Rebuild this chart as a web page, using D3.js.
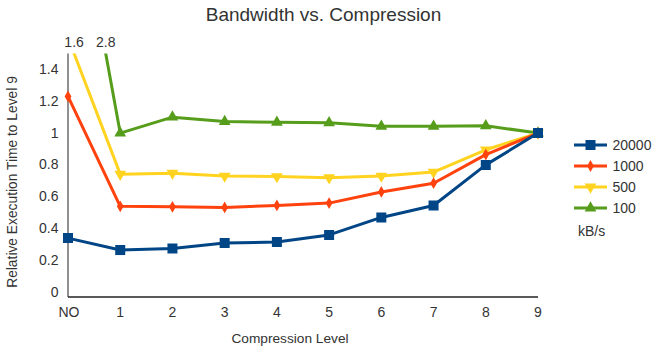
<!DOCTYPE html>
<html>
<head>
<meta charset="utf-8">
<script src="https://cdn.jsdelivr.net/npm/d3@7"></script>
<style>
  html, body { margin: 0; padding: 0; background: #fff; }
  svg { display: block; font-family: "Liberation Sans", Arial, sans-serif; }
</style>
</head>
<body>
<svg id="chart" width="652" height="350"></svg>
<script>
// Compression levels on the x axis
const levels = ["NO", "1", "2", "3", "4", "5", "6", "7", "8", "9"];

// Relative execution time (normalised to level 9) for each bandwidth
const bw20000 = [0.34, 0.265, 0.275, 0.31, 0.315, 0.36, 0.47, 0.545, 0.80, 1.0];
const bw1000  = [1.23, 0.54, 0.537, 0.533, 0.545, 0.56, 0.63, 0.685, 0.865, 1.0];
const bw500   = [1.6, 0.742, 0.748, 0.73, 0.727, 0.72, 0.73, 0.755, 0.895, 1.0];
const bw100   = [2.8, 1.0, 1.1, 1.072, 1.068, 1.065, 1.043, 1.043, 1.046, 1.0];

const seriesNames = ["20000", "1000", "500", "100"];
const seriesColors = ["#004586", "#ff420e", "#ffd320", "#579d1c"];
const seriesMarkers = ["square", "diamond", "triangleDown", "triangleUp"];

const yTicks = [0, 0.2, 0.4, 0.6, 0.8, 1, 1.2, 1.4];
const yMax = 1.5;

const series = [bw20000, bw1000, bw500, bw100].map((values, i) => ({
  name: seriesNames[i], values, color: seriesColors[i], marker: seriesMarkers[i]
}));

const svg = d3.select("#chart");

const x = d3.scalePoint().domain(levels).range([68, 538]);
const y = d3.scaleLinear().domain([-0.03, yMax]).range([297, 53.5]);

// Title
svg.append("text")
  .attr("x", 323.5).attr("y", 21)
  .attr("text-anchor", "middle")
  .attr("font-size", 19).attr("fill", "#333")
  .text("Bandwidth vs. Compression");

// Y axis tick labels
svg.append("g").selectAll("text")
  .data(yTicks).join("text")
  .attr("x", 58.5).attr("y", d => y(d))
  .attr("dy", "0.32em")
  .attr("text-anchor", "end")
  .attr("font-size", 14).attr("fill", "#333")
  .text(d => d3.format("~g")(d));

// X axis tick labels
svg.append("g").selectAll("text")
  .data(levels).join("text")
  .attr("x", d => x(d) + (d === "NO" ? 1 : 0)).attr("y", 317)
  .attr("text-anchor", "middle")
  .attr("font-size", 14).attr("fill", "#333")
  .text(d => d);

// Axis lines
svg.append("line")
  .attr("x1", x(levels[0])).attr("x2", x(levels[0]))
  .attr("y1", y(yMax)).attr("y2", y(-0.03))
  .attr("stroke", "#555").attr("stroke-width", 1.3);
svg.append("line")
  .attr("x1", x(levels[0])).attr("x2", x(levels[levels.length - 1]))
  .attr("y1", y(-0.03)).attr("y2", y(-0.03))
  .attr("stroke", "#222").attr("stroke-width", 1.3);

// Axis titles
svg.append("text")
  .attr("x", 290).attr("y", 343)
  .attr("text-anchor", "middle")
  .attr("font-size", 13.7).attr("fill", "#333")
  .text("Compression Level");
svg.append("text")
  .attr("transform", "translate(17,182) rotate(-90)")
  .attr("text-anchor", "middle")
  .attr("font-size", 13.8).attr("fill", "#333")
  .text("Relative Execution Time to Level 9");

// Clip lines to the plotting area (values above the axis maximum run off the top)
svg.append("defs").append("clipPath").attr("id", "plot-clip")
  .append("rect")
  .attr("x", 60).attr("y", y(yMax))
  .attr("width", 500).attr("height", y(-0.03) - y(yMax) + 10);

const markerSymbol = {
  square: d3.symbolSquare,
  diamond: d3.symbolDiamond,
  triangleDown: d3.symbolTriangle,
  triangleUp: d3.symbolTriangle
};
const markerSize = { square: 100, diamond: 40, triangleDown: 60, triangleUp: 60 };
const markerRotate = { square: 0, diamond: 0, triangleDown: 180, triangleUp: 0 };

const line = d3.line().x((d, i) => x(levels[i])).y(d => y(d));

const plot = svg.append("g").attr("clip-path", "url(#plot-clip)");

// Draw from the slowest link back so the fastest line sits on top
series.slice().reverse().forEach(s => {
  const g = plot.append("g");
  g.append("path")
    .attr("d", line(s.values))
    .attr("fill", "none")
    .attr("stroke", s.color)
    .attr("stroke-width", 3)
    .attr("stroke-linejoin", "round");
  g.selectAll("path.mark")
    .data(s.values.map((v, i) => ({ v, i })).filter(d => d.v <= yMax))
    .join("path")
    .attr("class", "mark")
    .attr("transform", d => `translate(${x(levels[d.i])},${y(d.v)}) rotate(${markerRotate[s.marker]})`)
    .attr("d", d3.symbol().type(markerSymbol[s.marker]).size(markerSize[s.marker]))
    .attr("fill", s.color);
});

// Values that exceed the axis are written above where the line leaves the plot
series.forEach(s => {
  const v0 = s.values[0], v1 = s.values[1];
  if (v0 <= yMax) return;
  const t = (v0 - yMax) / (v0 - v1);
  const xc = x(levels[0]) + t * (x(levels[1]) - x(levels[0]));
  svg.append("text")
    .attr("x", xc).attr("y", 47)
    .attr("text-anchor", "middle")
    .attr("font-size", 14).attr("fill", "#333")
    .text(d3.format("~g")(v0));
});

// Legend
const legend = svg.append("g");
series.forEach((s, i) => {
  const ly = 145 + i * 21;
  legend.append("line")
    .attr("x1", 574).attr("x2", 607).attr("y1", ly).attr("y2", ly)
    .attr("stroke", s.color).attr("stroke-width", 3);
  legend.append("path")
    .attr("transform", `translate(590.5,${ly}) rotate(${markerRotate[s.marker]})`)
    .attr("d", d3.symbol().type(markerSymbol[s.marker]).size(markerSize[s.marker]))
    .attr("fill", s.color);
  legend.append("text")
    .attr("x", 612.5).attr("y", ly).attr("dy", "0.35em")
    .attr("font-size", 14).attr("fill", "#333")
    .text(s.name);
});
legend.append("text")
  .attr("x", 578).attr("y", 231).attr("dy", "0.35em")
  .attr("font-size", 14).attr("fill", "#333")
  .text("kB/s");
</script>
</body>
</html>
